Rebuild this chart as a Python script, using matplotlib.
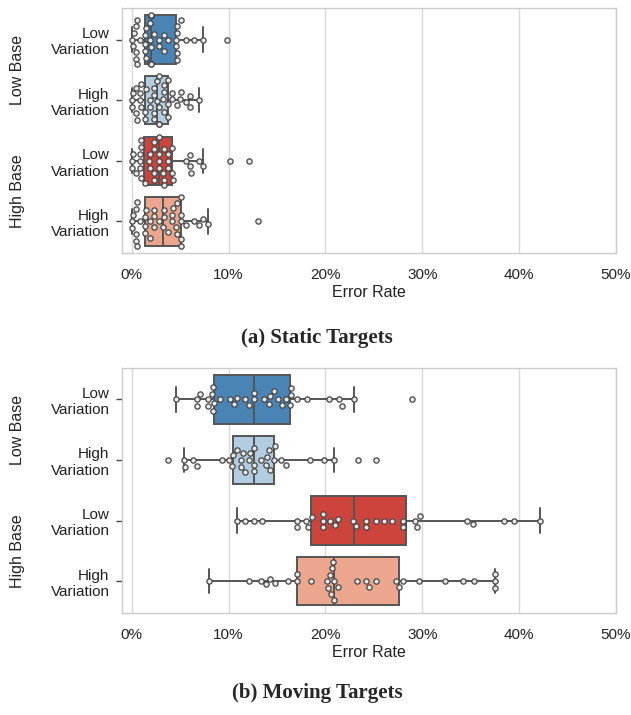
import pandas as pd
import matplotlib
matplotlib.use("Agg")
import matplotlib.pyplot as plt
import matplotlib.transforms as mtransforms
import seaborn as sns

# =========================
# DATA (error rate in %)
# =========================
tick_labels = ["Low\nVariation", "High\nVariation", "Low\nVariation", "High\nVariation"]
group_labels = ["Low Base", "High Base"]
box_colors = ["#4a84b4", "#b2cde2", "#cd443c", "#eca68d"]

static_low_low = [0.0, 0.1, 0.2, 0.4, 0.4, 0.45, 0.5, 0.5, 0.9, 1.4, 1.4, 1.4, 1.45, 1.45,
                  1.9, 1.9, 1.9, 1.95, 1.95, 2.0, 2.0, 2.0, 2.3, 2.8, 2.8, 3.3, 3.3, 3.7,
                  4.6, 4.6, 4.65, 4.65, 4.7, 4.7, 5.1, 5.6, 6.4, 7.4, 9.8]
static_low_high = [0.0, 0.05, 0.1, 0.4, 0.45, 0.5, 0.9, 0.9, 0.95, 1.0, 1.4, 1.4, 1.45,
                   1.9, 1.9, 2.3, 2.3, 2.35, 2.35, 2.6, 2.6, 2.8, 2.8, 2.85, 2.85, 3.25,
                   3.3, 3.3, 3.3, 3.7, 3.7, 3.75, 4.2, 4.2, 4.65, 5.0, 5.1, 5.6, 6.0, 6.0, 7.0]
static_high_low = [0.0, 0.05, 0.1, 0.45, 0.9, 0.9, 0.9, 0.95, 0.95, 1.0, 1.35, 1.8, 1.85,
                   1.85, 2.3, 2.3, 2.35, 2.35, 2.8, 2.8, 2.85, 2.85, 3.25, 3.3, 3.3, 3.3,
                   3.75, 3.8, 3.8, 4.2, 4.2, 4.25, 5.6, 6.0, 6.0, 6.1, 7.0, 7.4, 10.2, 12.1]
static_high_high = [0.0, 0.05, 0.1, 0.4, 0.4, 0.45, 0.5, 0.5, 0.9, 1.4, 1.4, 1.4, 1.45,
                    1.9, 1.9, 2.3, 2.35, 2.35, 2.8, 3.25, 3.3, 3.3, 3.7, 4.2, 4.2, 4.25,
                    4.6, 4.65, 4.7, 5.05, 5.1, 5.1, 5.1, 5.1, 5.6, 6.4, 7.0, 7.4, 7.9, 13.0]

moving_low_low = [4.6, 6.7, 6.7, 7.1, 7.9, 7.9, 8.3, 8.4, 8.4, 8.5, 9.1, 10.1, 10.6, 10.9,
                  11.7, 12.1, 12.6, 12.6, 13.7, 14.2, 14.3, 14.7, 15.1, 15.5, 15.9, 16.3,
                  16.4, 16.4, 17.1, 18.1, 20.4, 21.4, 21.7, 22.9, 28.9]
moving_low_high = [3.8, 5.4, 5.5, 6.3, 6.7, 9.3, 10.0, 10.4, 10.5, 10.85, 11.3, 11.3, 11.5,
                   11.7, 12.1, 12.2, 12.6, 12.6, 12.6, 13.4, 13.9, 14.0, 14.2, 14.3, 14.65,
                   14.75, 15.4, 15.9, 18.4, 19.9, 20.85, 23.4, 25.2]
moving_high_low = [10.9, 11.7, 12.6, 13.5, 17.1, 17.1, 18.0, 18.2, 18.6, 19.7, 19.8, 19.8,
                   20.5, 21.0, 21.3, 22.8, 23.2, 24.2, 24.2, 25.2, 26.0, 26.9, 28.0, 28.0,
                   29.3, 29.5, 29.8, 34.6, 35.2, 38.4, 39.5, 42.2]
moving_high_high = [8.0, 12.1, 13.3, 13.9, 14.3, 14.8, 16.1, 17.1, 17.1, 18.5, 20.2, 20.3,
                    20.5, 20.6, 20.7, 20.8, 20.9, 20.9, 21.3, 23.3, 24.2, 24.5, 25.2, 27.3,
                    27.6, 28.0, 29.7, 32.3, 34.2, 35.3, 37.5, 37.5, 37.5]

static_groups = [static_low_low, static_low_high, static_high_low, static_high_high]
moving_groups = [moving_low_low, moving_low_high, moving_high_low, moving_high_high]

# =========================
# STYLE
# =========================
sns.set_theme(style="whitegrid")
plt.rcParams["font.family"] = ["Liberation Sans", "DejaVu Sans"]

fig = plt.figure(figsize=(6.31, 7.15), dpi=100)
W, H = 631, 715
ax1 = fig.add_axes([122 / W, 1 - 253 / H, (616 - 122) / W, (253 - 8) / H])
ax2 = fig.add_axes([122 / W, 1 - 612.5 / H, (616 - 122) / W, (612.5 - 368) / H])

edge = "#555555"


def draw_panel(ax, groups):
    bp = ax.boxplot(groups, positions=range(len(groups)), widths=0.8,
                    orientation="horizontal", patch_artist=True, showfliers=False,
                    boxprops=dict(edgecolor=edge, linewidth=1.4),
                    medianprops=dict(color=edge, linewidth=1.4),
                    whiskerprops=dict(color=edge, linewidth=1.4),
                    capprops=dict(color=edge, linewidth=1.4))
    for patch, c in zip(bp["boxes"], box_colors):
        patch.set_facecolor(c)

    rows = []
    for i, g in enumerate(groups):
        for v in g:
            rows.append({"rate": v, "pos": i})
    df = pd.DataFrame(rows)
    sns.swarmplot(data=df, x="rate", y="pos", orient="h", native_scale=True, ax=ax,
                  size=3.8, color="#e8e8e8", edgecolor="#444444", linewidth=0.9,
                  zorder=5)

    ax.set_ylim(3.52, -0.52)
    ax.set_yticks(range(4))
    ax.set_yticklabels(tick_labels, fontsize=11)
    ax.set_ylabel("")
    ax.set_xlim(-1, 50)
    ax.set_xticks([0, 10, 20, 30, 40, 50])
    ax.set_xticklabels(["0%", "10%", "20%", "30%", "40%", "50%"], fontsize=11)
    ax.set_xlabel("Error Rate", fontsize=11.5, labelpad=2, color="#222222")
    ax.grid(axis="x", color="#d9d9d9", linewidth=1)
    ax.grid(axis="y", visible=False)
    ax.tick_params(axis="y", left=True, length=4, width=1, color="#444444", pad=5,
                   labelcolor="#222222")
    ax.tick_params(axis="x", bottom=False, pad=5, labelcolor="#222222")
    for s in ax.spines.values():
        s.set_color("#cccccc")
        s.set_linewidth(1)

    trans = mtransforms.blended_transform_factory(fig.transFigure, ax.transData)
    ax.text(18 / W, 0.5, group_labels[0], transform=trans, rotation=90,
            ha="center", va="center", fontsize=11.5, color="#222222")
    ax.text(18 / W, 2.5, group_labels[1], transform=trans, rotation=90,
            ha="center", va="center", fontsize=11.5, color="#222222")


draw_panel(ax1, static_groups)
draw_panel(ax2, moving_groups)

fig.text(317 / W, 1 - 338 / H, "(a) Static Targets", ha="center", va="center",
         family="Liberation Serif", fontweight="bold", fontsize=15)
fig.text(317 / W, 1 - 693 / H, "(b) Moving Targets", ha="center", va="center",
         family="Liberation Serif", fontweight="bold", fontsize=15)

fig.savefig("out.png", dpi=100)
